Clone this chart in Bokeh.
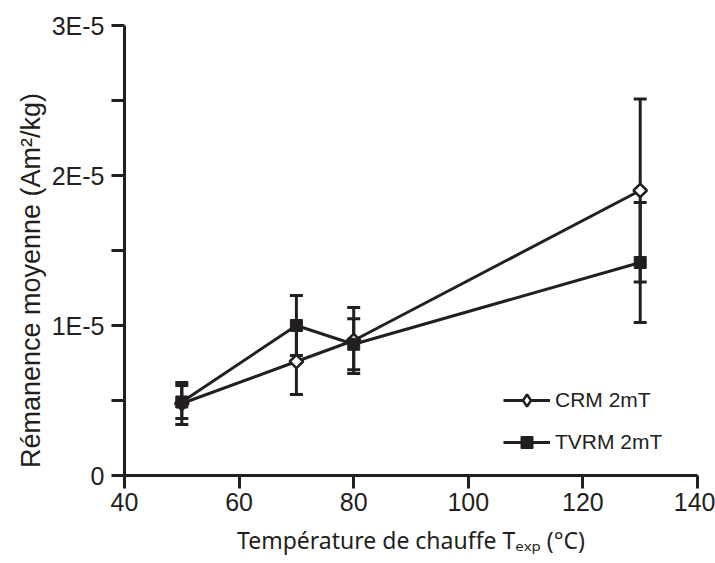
from bokeh.plotting import figure
from bokeh.models import (ColumnDataSource, Whisker, TeeHead, FixedTicker, Legend,
                          LegendItem, Range1d)
from bokeh.embed import file_html
from bokeh.resources import INLINE
import numpy as np

# ---- data ----
temperature = [50, 70, 80, 130]
crm_mean = [0.48e-5, 0.76e-5, 0.90e-5, 1.90e-5]
crm_err = [0.14e-5, 0.22e-5, 0.22e-5, 0.61e-5]
tvrm_mean = [0.49e-5, 1.00e-5, 0.875e-5, 1.42e-5]
tvrm_err = [0.11e-5, 0.20e-5, 0.17e-5, 0.40e-5]
x_ticks = [40, 60, 80, 100, 120, 140]
y_ticks = [0, 1e-5, 2e-5, 3e-5]
y_tick_labels = ["0", "1E-5", "2E-5", "3E-5"]
y_minor_ticks = [0.5e-5, 1.5e-5, 2.5e-5]
series_names = ["CRM 2mT", "TVRM 2mT"]
y_title = "Rémanence moyenne (Am²/kg)"
x_title = "Température de chauffe T\u2091\u2093\u209a (°C)"

INK = "#231f20"

p = figure(width=715, height=563, output_backend="svg", toolbar_location=None,
           x_range=Range1d(40, 140), y_range=Range1d(0, 3e-5),
           min_border_left=124, min_border_right=18, min_border_top=25,
           min_border_bottom=88)
p.outline_line_color = None
p.xgrid.visible = False
p.ygrid.visible = False
p.background_fill_color = "white"
p.border_fill_color = "white"

for ax in (p.xaxis[0], p.yaxis[0]):
    ax.axis_line_width = 3
    ax.axis_line_color = INK
    ax.major_tick_line_width = 3
    ax.major_tick_line_color = INK
    ax.minor_tick_line_width = 3
    ax.minor_tick_line_color = INK
    ax.major_tick_out = 13
    ax.major_tick_in = 0
    ax.minor_tick_out = 13
    ax.minor_tick_in = 0
    ax.major_label_text_font = "Liberation Sans"
    ax.major_label_text_font_size = "25px"
    ax.major_label_text_color = INK

p.xaxis.ticker = FixedTicker(ticks=x_ticks)
p.xaxis.major_label_standoff = 4
p.xaxis.axis_label = x_title
p.xaxis.axis_label_text_font = "Noto Sans"
p.xaxis.axis_label_text_font_size = "23px"
p.xaxis.axis_label_text_font_style = "normal"
p.xaxis.axis_label_text_color = INK
p.xaxis.axis_label_standoff = 10

p.yaxis.ticker = FixedTicker(ticks=y_ticks, minor_ticks=y_minor_ticks)
p.yaxis.major_label_overrides = {t: s for t, s in zip(y_ticks, y_tick_labels)}
p.yaxis.major_label_standoff = 7
# non-breaking spaces shift the centred title down, as in the reference
p.yaxis.axis_label = y_title + "\u00a0" * 8
p.yaxis.axis_label_text_font = "Liberation Sans"
p.yaxis.axis_label_text_font_size = "27px"
p.yaxis.axis_label_text_font_style = "normal"
p.yaxis.axis_label_text_color = INK
p.yaxis.axis_label_standoff = 3

crm_src = ColumnDataSource(dict(x=temperature, y=crm_mean,
                                lo=[m - e for m, e in zip(crm_mean, crm_err)],
                                hi=[m + e for m, e in zip(crm_mean, crm_err)]))
tvrm_src = ColumnDataSource(dict(x=temperature, y=tvrm_mean,
                                 lo=[m - e for m, e in zip(tvrm_mean, tvrm_err)],
                                 hi=[m + e for m, e in zip(tvrm_mean, tvrm_err)]))

for src in (crm_src, tvrm_src):
    w = Whisker(base="x", upper="hi", lower="lo", source=src, dimension="height",
                line_width=3, line_color=INK, level="underlay",
                upper_head=TeeHead(size=13, line_width=3, line_color=INK),
                lower_head=TeeHead(size=13, line_width=3, line_color=INK))
    p.add_layout(w)

crm_line = p.line("x", "y", source=crm_src, line_width=3, line_color=INK)
# legend key for the diamond (legend glyphs ignore marker angle); hidden under the points
crm_key = p.scatter("x", "y", source=crm_src, marker="diamond", size=10,
                    fill_color="white", line_color=INK, line_width=2.5)
crm_pts = p.scatter("x", "y", source=crm_src, marker="square", angle=np.pi / 4,
                    size=9.5, fill_color="white", line_color=INK, line_width=2.5)
tvrm_line = p.line("x", "y", source=tvrm_src, line_width=3, line_color=INK)
tvrm_pts = p.scatter("x", "y", source=tvrm_src, marker="square", size=12,
                     fill_color=INK, line_color=INK, line_width=1)

legend = Legend(items=[LegendItem(label=series_names[0], renderers=[crm_line, crm_key]),
                       LegendItem(label=series_names[1], renderers=[tvrm_line, tvrm_pts])],
                location=(379, 18), glyph_width=47, glyph_height=30, label_height=30,
                spacing=12, padding=0, margin=0, label_standoff=5,
                border_line_alpha=0, background_fill_alpha=0,
                label_text_font="Liberation Sans", label_text_font_size="21px",
                label_text_color=INK)
p.add_layout(legend)

open("out.html", "w").write(file_html(p, INLINE))
